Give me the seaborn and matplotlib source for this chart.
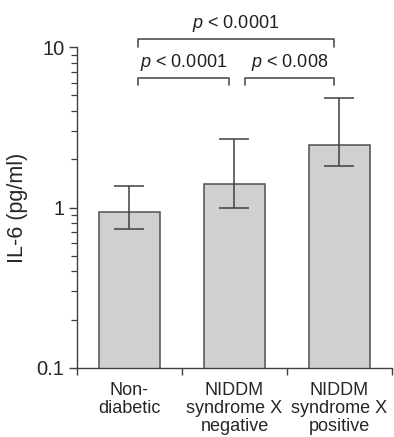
import numpy as np
import matplotlib
matplotlib.use("Agg")
import matplotlib.pyplot as plt
import seaborn as sns

groups = ["Non-\ndiabetic", "NIDDM\nsyndrome X\nnegative", "NIDDM\nsyndrome X\npositive"]
il6_mean = [0.94, 1.41, 2.45]
err_low = [0.73, 1.00, 1.82]
err_high = [1.37, 2.67, 4.81]

# comparisons: (left group, right group, label, level)
comparisons = [(0, 2, "$p$ < 0.0001", 2), (0, 1, "$p$ < 0.0001", 1), (1, 2, "$p$ < 0.008", 1)]

sns.set_style("ticks")
plt.rcParams["font.family"] = ["Liberation Sans", "DejaVu Sans"]
plt.rcParams["mathtext.fontset"] = "custom"
plt.rcParams["mathtext.it"] = "Liberation Sans:italic"
plt.rcParams["mathtext.rm"] = "Liberation Sans"

fig = plt.figure(figsize=(3.94, 4.37), dpi=100)
ax = fig.add_axes([0.195, 0.158, 0.8, 0.734])

sns.barplot(x=groups, y=il6_mean, color="#d0d0d0", edgecolor="#505050",
            linewidth=1.1, width=0.58, errorbar=None, saturation=1, ax=ax)

ax.set_yscale("log")
ax.set_ylim(0.1, 10)
ax.set_xlim(-0.5, 2.5)

means = np.array(il6_mean)
yerr = [means - np.array(err_low), np.array(err_high) - means]
ax.errorbar(range(len(groups)), means, yerr=yerr, fmt="none", ecolor="#404040",
            elinewidth=1.1, capsize=11, capthick=1.1)

# y axis ticks
ax.set_yticks([0.1, 1, 10])
ax.set_yticklabels(["0.1", "1", "10"])
ax.tick_params(axis="y", which="major", length=6, width=1, labelsize=14.5, pad=3, color="#404040")
ax.tick_params(axis="y", which="minor", length=4, width=0.9, color="#404040")

# x axis: labels at categories, ticks between
ax.set_xticks(range(len(groups)))
ax.set_xticklabels(groups, fontsize=13, linespacing=1.08)
ax.set_xticks([-0.5, 0.5, 1.5, 2.5], minor=True)
ax.tick_params(axis="x", which="major", length=0, pad=10)
ax.tick_params(axis="x", which="minor", length=5, width=1, color="#404040")

ax.set_ylabel("IL-6 (pg/ml)", fontsize=15.5, labelpad=6)
sns.despine(ax=ax)
for s in ["left", "bottom"]:
    ax.spines[s].set_color("#404040")
    ax.spines[s].set_linewidth(1)

# significance brackets
bracket_y = {1: (5.8, 6.38, 6.9), 2: (10.0, 11.2, 12.0)}
for i, j, label, lvl in comparisons:
    y0, y1, yt = bracket_y[lvl]
    xl = i + (0.08 if i == 0 else 0.1)
    xr = j - 0.05
    ax.plot([xl, xl, xr, xr], [y0, y1, y1, y0], color="#505050", lw=1.2,
            clip_on=False)
    ax.text((xl + xr) / 2, yt, label, ha="center", va="bottom", fontsize=13,
            clip_on=False, color="#202020")

fig.savefig("out.png", dpi=100)
